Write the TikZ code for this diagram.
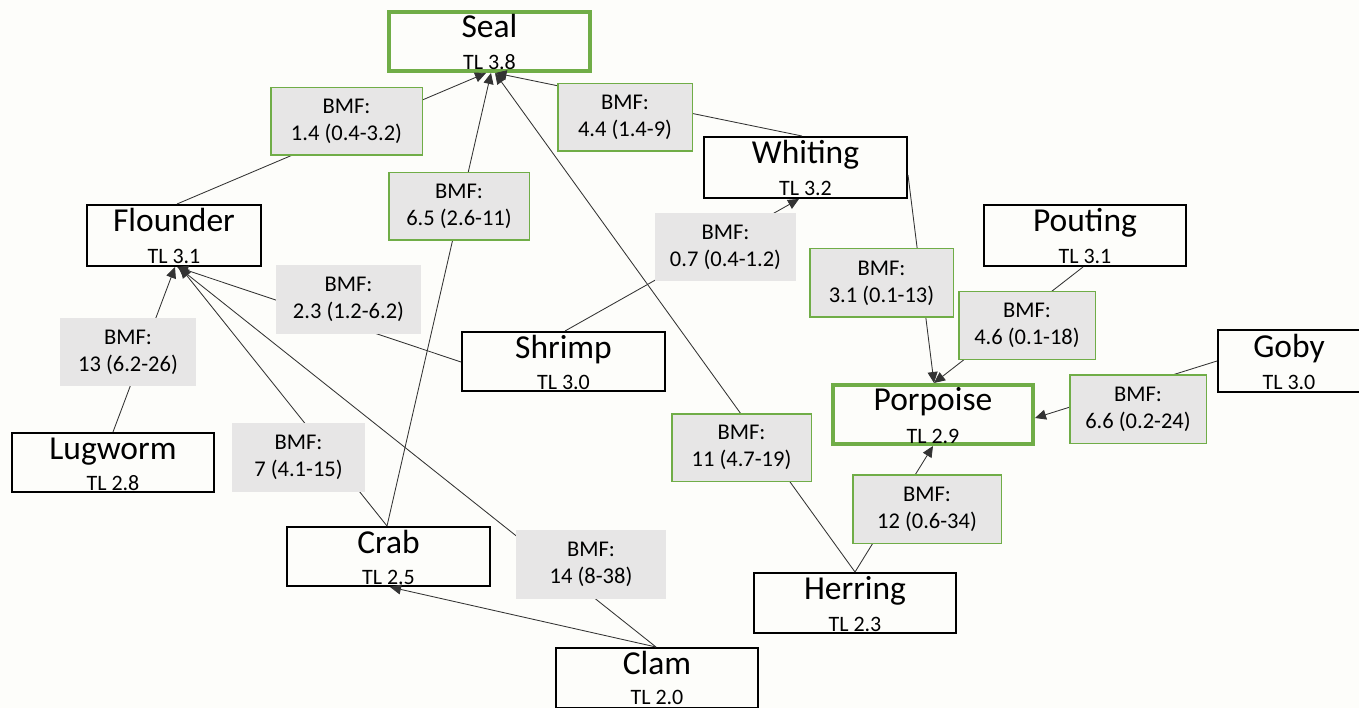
\documentclass[tikz,border=0pt]{standalone}
\usepackage{fontspec}
\setmainfont{Carlito}
\usetikzlibrary{arrows.meta}
\definecolor{bmfgray}{RGB}{231,230,230}
\definecolor{offgreen}{RGB}{112,173,71}
\definecolor{bgcol}{RGB}{253,253,250}
\tikzset{
  spbox/.style={draw=black, line width=2pt, fill=bgcol, inner sep=0pt},
  spgreen/.style={draw=offgreen, line width=4pt, fill=bgcol, inner sep=0pt},
  namefont/.style={font=\fontsize{33.5}{40}\selectfont, inner sep=0pt, anchor=base},
  tlfont/.style={font=\fontsize{22}{26}\selectfont, inner sep=0pt, anchor=base},
  bmf/.style={fill=bmfgray, inner sep=0pt, align=center, font=\fontsize{22.5}{27}\selectfont},
  bmfg/.style={bmf, draw=offgreen, line width=1.5pt},
  edge/.style={draw=black!80, line width=0.85pt, -{Triangle[length=11pt,width=10pt]}},
}
% #1 style, #2 id, #3 centre, #4 width, #5 height, #6 name, #7 TL
\newcommand{\spnode}[7]{%
  \node[#1, minimum width=#4, minimum height=#5] (#2) at (#3) {};
  \node[namefont] at ([yshift=-27.5pt]#2.north) {#6};
  \node[tlfont] at ([yshift=3pt]#2.south) {#7};
}
\begin{document}
\begin{tikzpicture}[x=1pt,y=-1pt]
\fill[bgcol] (0,0) rectangle (1359,708);
\useasboundingbox (0,0) rectangle (1359,708);

% species boxes
\spnode{spgreen}{seal}{489.5,41.5}{201}{59}{Seal}{TL 3.8}
\spnode{spbox}{whiting}{805.5,167.5}{203}{61}{Whiting}{TL 3.2}
\spnode{spbox}{flounder}{174,235.5}{174}{61}{Flounder}{TL 3.1}
\spnode{spbox}{pouting}{1085,235.5}{202}{61}{Pouting}{TL 3.1}
\spnode{spbox}{shrimp}{563.5,361.5}{203}{59}{Shrimp}{TL 3.0}
\spnode{spbox}{goby}{1289,361}{142}{61}{Goby}{TL 3.0}
\spnode{spgreen}{porpoise}{933,414.5}{200}{59}{Porpoise}{TL 2.9}
\spnode{spbox}{lugworm}{113,462.5}{202}{59}{Lugworm}{TL 2.8}
\spnode{spbox}{crab}{388.5,556.5}{203}{59}{Crab}{TL 2.5}
\spnode{spbox}{herring}{855,603}{202}{60}{Herring}{TL 2.3}
\node[spbox, minimum width=202, minimum height=60] (clam) at (657,678) {};
\node[namefont] at ([yshift=-27.5pt]clam.north) {Clam};
\node[tlfont] at ([yshift=5pt]clam.south) {TL 2.0};

% connectors (prey -> predator)
\draw[edge] ([xshift=3pt]flounder.north) -- ([xshift=-3.5pt]seal.south);
\draw[edge] ([xshift=-3.5pt]whiting.north) -- ([xshift=6pt]seal.south);
\draw[edge] ([xshift=-1.5pt]crab.north) -- ([xshift=1.5pt]seal.south);
\draw[edge] (herring.north) -- ([xshift=5.5pt]seal.south);
\draw[edge] ([xshift=1.5pt]shrimp.north) -- ([xshift=-6.5pt]whiting.south);
\draw[edge] ([yshift=-0.5pt]shrimp.west) -- ([xshift=3pt]flounder.south);
\draw[edge] (lugworm.north) -- ([xshift=1pt]flounder.south);
\draw[edge] ([xshift=-1.5pt]crab.north) -- ([xshift=6pt]flounder.south);
\draw[edge] ([xshift=-1pt]clam.north) -- ([xshift=4pt]flounder.south);
\draw[edge] ([xshift=-1pt]clam.north) -- ([xshift=1.5pt]crab.south);
\draw[edge] ([yshift=-7.5pt]whiting.east) -- ([xshift=1pt]porpoise.north);
\draw[edge] ([xshift=-2pt]pouting.south) -- ([xshift=1pt]porpoise.north);
\draw[edge] (goby.west) -- ([yshift=-3.5pt]porpoise.east);
\draw[edge] (herring.north) -- (porpoise.south);

% BMF labels
\node[bmfg, minimum width=151.5, minimum height=67.5] (b14) at (346.5,121.5) {BMF:\\1.4 (0.4-3.2)};
\node[bmfg, minimum width=134.5, minimum height=67.5] (b44) at (625,117.5) {BMF:\\4.4 (1.4-9)};
\node[bmfg, minimum width=140.5, minimum height=67.5] (b65) at (459,206.5) {BMF:\\6.5 (2.6-11)};
\node[bmf, minimum width=141, minimum height=68] (b07) at (725.5,247) {BMF:\\0.7 (0.4-1.2)};
\node[bmfg, minimum width=143.5, minimum height=68.5] (b31) at (881.5,283) {BMF:\\3.1 (0.1-13)};
\node[bmfg, minimum width=136.5, minimum height=67.5] (b46) at (1027,325.5) {BMF:\\4.6 (0.1-18)};
\node[bmf, minimum width=145, minimum height=69] (b23) at (348.5,299.5) {BMF:\\2.3 (1.2-6.2)};
\node[bmf, minimum width=136, minimum height=68] (b13) at (128,352) {BMF:\\13 (6.2-26)};
\node[bmfg, minimum width=136.5, minimum height=68.5] (b66) at (1138,409) {BMF:\\6.6 (0.2-24)};
\node[bmf, minimum width=133, minimum height=69] (b7) at (298.5,457.5) {BMF:\\7 (4.1-15)};
\node[bmfg, minimum width=139.5, minimum height=67.5] (b11) at (741.5,447.5) {BMF:\\11 (4.7-19)};
\node[bmfg, minimum width=148.5, minimum height=68.5] (b12) at (927,509) {BMF:\\12 (0.6-34)};
\node[bmf, minimum width=150, minimum height=69] (b14b) at (591,564.5) {BMF:\\14 (8-38)};
\end{tikzpicture}
\end{document}
